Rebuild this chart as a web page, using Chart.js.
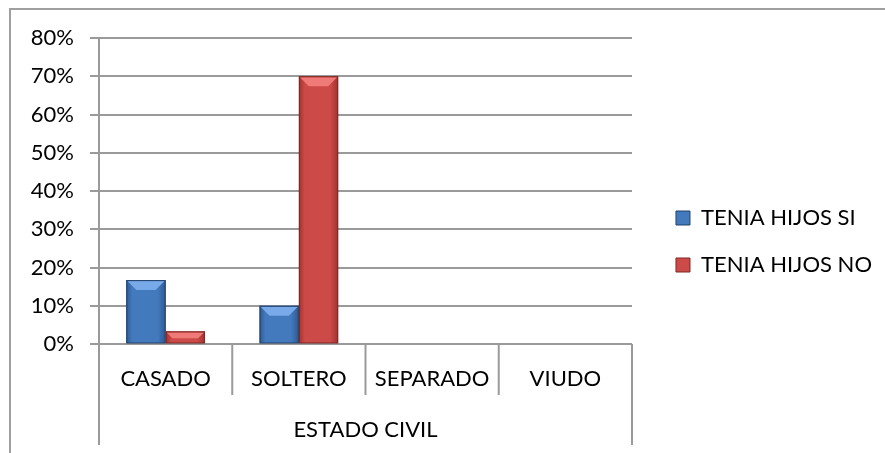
<!DOCTYPE html>
<html>
<head>
<meta charset="utf-8">
<script src="https://cdn.jsdelivr.net/npm/chart.js@4.4.0/dist/chart.umd.min.js"></script>
<style>
  html, body { margin: 0; padding: 0; background: #fff; overflow: hidden; }
  #wrap { position: relative; width: 885px; height: 453px; }
  #frame { position: absolute; left: 9px; top: 8px; width: 900px; height: 500px;
           border-left: 2px solid #a0a0a0; border-top: 2px solid #a0a0a0; }
  canvas { position: absolute; left: 0; top: 0; }
</style>
</head>
<body>
<div id="wrap">
  <div id="frame"></div>
  <canvas id="mycanvas" width="885" height="453"></canvas>
</div>
<script>
var categories = ['CASADO', 'SOLTERO', 'SEPARADO', 'VIUDO'];
var groupLabel = 'ESTADO CIVIL';
var seriesNames = ['TENIA HIJOS SI', 'TENIA HIJOS NO'];
var hijosSi = [16.7, 10, 0, 0];
var hijosNo = [3.3, 70, 0, 0];
var yMax = 80;
var yStep = 10;

var FONT = 'Lato, "Open Sans", sans-serif';
var FSIZE = 22;

// colours for each series: base, light top, dark edge, border
var palette = [
  { base: '#4379bd', light: '#78a9e8', dark: '#2d5a93', border: '#23436d' },
  { base: '#cc4b48', light: '#f07a77', dark: '#a1312f', border: '#7d2826' }
];

// bevel look for the bars (drawn over the library's bar elements)
var bevelPlugin = {
  id: 'bevel',
  afterDatasetsDraw: function(chart) {
    var ctx = chart.ctx;
    chart.data.datasets.forEach(function(ds, di) {
      var meta = chart.getDatasetMeta(di);
      var c = palette[di];
      meta.data.forEach(function(bar) {
        var left = bar.x - bar.width / 2, right = bar.x + bar.width / 2;
        var top = bar.y, bottom = bar.base;
        var h = bottom - top;
        if (h < 1) return;
        var b = Math.min(9, h / 2);
        ctx.save();
        var g = ctx.createLinearGradient(left, 0, right, 0);
        g.addColorStop(0, c.dark);
        g.addColorStop(0.15, c.base);
        g.addColorStop(0.8, c.base);
        g.addColorStop(1, c.dark);
        ctx.fillStyle = g;
        ctx.fillRect(left, top, right - left, h);
        ctx.beginPath();
        ctx.moveTo(left + 1, top + 1);
        ctx.lineTo(right - 1, top + 1);
        ctx.lineTo(right - 1 - b, top + 1 + b);
        ctx.lineTo(left + 1 + b, top + 1 + b);
        ctx.closePath();
        ctx.fillStyle = c.light;
        ctx.fill();
        ctx.strokeStyle = c.border;
        ctx.lineWidth = 1;
        ctx.strokeRect(left + 0.5, top + 0.5, right - left - 1, h - 0.5);
        ctx.restore();
      });
    });
  }
};

// multi-level category axis: separators and group label
var catAxisPlugin = {
  id: 'catAxis',
  afterDraw: function(chart) {
    var ctx = chart.ctx;
    var xs = chart.scales.x;
    var area = chart.chartArea;
    var n = categories.length;
    var step = (xs.right - xs.left) / n;
    var midY = xs.top + 51;
    ctx.save();
    ctx.strokeStyle = '#9a9a9a';
    ctx.lineWidth = 2;
    for (var i = 0; i <= n; i++) {
      var x = xs.left + i * step;
      ctx.beginPath();
      ctx.moveTo(x, area.bottom);
      ctx.lineTo(x, (i === 0 || i === n) ? xs.bottom : midY);
      ctx.stroke();
    }
    ctx.fillStyle = '#000';
    ctx.font = FSIZE + 'px ' + FONT;
    ctx.textAlign = 'center';
    ctx.textBaseline = 'middle';
    ctx.fillText(groupLabel, (xs.left + xs.right) / 2, xs.top + 86);
    ctx.restore();
  }
};

function draw() {
  var chartdata = {
    labels: categories,
    datasets: [
      {
        label: seriesNames[0],
        backgroundColor: palette[0].base,
        borderColor: palette[0].border,
        borderWidth: 1,
        data: hijosSi
      },
      {
        label: seriesNames[1],
        backgroundColor: palette[1].base,
        borderColor: palette[1].border,
        borderWidth: 1,
        data: hijosNo
      }
    ]
  };

  var ctx = document.getElementById('mycanvas');
  var barGraph = new Chart(ctx, {
    type: 'bar',
    data: chartdata,
    plugins: [bevelPlugin, catAxisPlugin],
    options: {
      responsive: false,
      animation: false,
      layout: { padding: { left: 10, top: 38, right: 3, bottom: 8 } },
      datasets: { bar: { barPercentage: 1.0, categoryPercentage: 0.59 } },
      plugins: {
        tooltip: { enabled: false },
        legend: {
          position: 'right',
          maxWidth: 320,
          labels: {
            color: '#000',
            font: { family: FONT, size: FSIZE },
            boxWidth: 14,
            boxHeight: 14,
            padding: 25
          }
        }
      },
      scales: {
        x: {
          grid: { display: false },
          border: { display: false },
          ticks: { color: '#000', font: { family: FONT, size: FSIZE }, padding: 14, maxRotation: 0 },
          afterFit: function(s) { s.height = 101; }
        },
        y: {
          min: 0,
          max: yMax,
          ticks: {
            stepSize: yStep,
            color: '#000',
            font: { family: FONT, size: FSIZE },
            padding: 16,
            callback: function(v) { return v + '%'; }
          },
          grid: { color: '#9a9a9a', lineWidth: 2, tickLength: 9 },
          border: { color: '#9a9a9a', width: 2 },
          afterFit: function(s) { s.width = 89; }
        },
        // empty gap between plot area and legend
        gap: {
          type: 'linear',
          position: 'right',
          grid: { display: false },
          border: { display: false },
          ticks: { display: false },
          afterFit: function(s) { s.width = 19; }
        }
      }
    }
  });
}

if (document.fonts && document.fonts.load) {
  document.fonts.load(FSIZE + 'px Lato').then(draw, draw);
} else {
  draw();
}
</script>
</body>
</html>
